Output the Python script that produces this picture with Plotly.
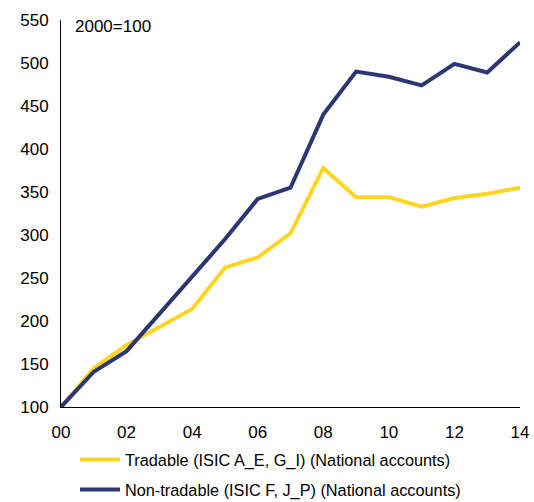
import plotly.graph_objects as go

years = list(range(2000, 2015))
tick_vals = list(range(2000, 2015, 2))
tick_text = ["00", "02", "04", "06", "08", "10", "12", "14"]
tradable = [100, 145, 172, 193, 214, 262, 274, 302, 378, 344, 344, 333, 343, 348, 355]
non_tradable = [100, 141, 165, 208, 252, 295, 342, 355, 440, 490, 484, 474, 499, 489, 524]

fig = go.Figure()
fig.add_trace(go.Scatter(x=years, y=tradable, mode="lines",
                         name="Tradable (ISIC A_E, G_I) (National accounts)",
                         line=dict(color="#FFD522", width=4), legend="legend"))
fig.add_trace(go.Scatter(x=years, y=non_tradable, mode="lines",
                         name="Non-tradable (ISIC F, J_P) (National accounts)",
                         line=dict(color="#2B3673", width=4), legend="legend2"))

leg_common = dict(orientation="v", xanchor="left", yanchor="middle",
                  font=dict(size=16.3), itemwidth=40, bgcolor="rgba(0,0,0,0)")

fig.update_layout(
    width=534, height=502,
    margin=dict(l=61, r=14, t=20, b=95, autoexpand=False),
    paper_bgcolor="white", plot_bgcolor="white",
    font=dict(family="Liberation Sans, Arial, sans-serif", size=17, color="#000000"),
    xaxis=dict(range=[2000, 2014], tickvals=tick_vals, ticktext=tick_text,
               showgrid=False, zeroline=False, showline=True, linecolor="#000000",
               linewidth=1, ticks="", tickfont=dict(size=17), automargin=False,
               ticklabelstandoff=10, ticklabeloverflow="allow"),
    yaxis=dict(range=[100, 550], dtick=50, tick0=100, showgrid=False, zeroline=False,
               showline=True, linecolor="#000000", linewidth=1, ticks="",
               tickfont=dict(size=17), automargin=False, ticklabelstandoff=8),
    legend=dict(x=0.0305, y=-0.137, **leg_common),
    legend2=dict(x=0.0305, y=-0.2145, **leg_common),
    showlegend=True,
)
fig.add_annotation(text="2000=100", xref="paper", yref="paper", x=0.026, y=0.984,
                   xanchor="left", yanchor="middle", showarrow=False,
                   font=dict(size=17))
fig.write_html("out.html",
               config={"displayModeBar": False},
               post_script="document.body.style.margin='0';"
                           "document.body.style.overflow='hidden';")
